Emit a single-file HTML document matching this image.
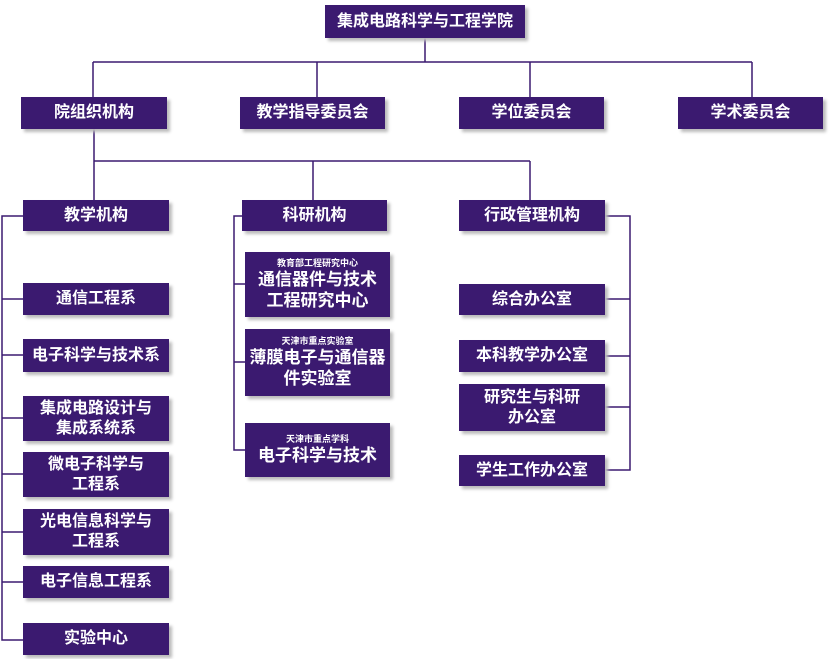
<!DOCTYPE html>
<html><head><meta charset="utf-8"><style>
html,body{margin:0;padding:0;background:#fff;}
#c{position:relative;width:831px;height:659px;overflow:hidden;font-family:"Liberation Sans","Noto Sans CJK SC",sans-serif;}
.b{position:absolute;background:#3b1a70;color:#fff;font-weight:bold;font-size:16px;display:flex;flex-direction:column;align-items:center;justify-content:center;text-align:center;line-height:20px;box-shadow:3px 3px 3px #bbb;}
.m{font-size:17px;line-height:21px;}
.s{font-size:9px;line-height:11px;}
svg{position:absolute;left:0;top:0;}
</style></head><body><div id="c">
<svg width="831" height="659"><g stroke="#3b1a70" stroke-width="1.5" fill="none">
<path d="M425 38V62M93 62H752M93 62V97M317 62V97M530 62V97M752 62V97"/>
<path d="M94 129V200M94 161H530M313 161V200M530 161V200"/>
<path d="M23 216H2V640H23M2 299H23M2 355H23M2 418H23M2 474H23M2 532H23M2 582H23"/>
<path d="M245 216H234V450H245M234 284H245M234 362H245"/>
<path d="M605 216H630V470H605M630 299H605M630 356H605M630 407H605"/>
</g></svg>
<div class="b" style="left:325px;top:5px;width:200px;height:33px">集成电路科学与工程学院</div>
<div class="b" style="left:21px;top:97px;width:146px;height:32px">院组织机构</div>
<div class="b" style="left:240px;top:97px;width:145px;height:32px">教学指导委员会</div>
<div class="b" style="left:459px;top:97px;width:145px;height:32px">学位委员会</div>
<div class="b" style="left:678px;top:97px;width:145px;height:32px">学术委员会</div>
<div class="b" style="left:23px;top:200px;width:146px;height:31px">教学机构</div>
<div class="b" style="left:242px;top:200px;width:145px;height:31px">科研机构</div>
<div class="b" style="left:459px;top:200px;width:146px;height:31px">行政管理机构</div>
<div class="b" style="left:23px;top:283px;width:146px;height:32px">通信工程系</div>
<div class="b" style="left:23px;top:339px;width:146px;height:33px">电子科学与技术系</div>
<div class="b" style="left:23px;top:396px;width:146px;height:45px">集成电路设计与<br>集成系统系</div>
<div class="b" style="left:23px;top:452px;width:146px;height:45px">微电子科学与<br>工程系</div>
<div class="b" style="left:23px;top:509px;width:146px;height:46px">光电信息科学与<br>工程系</div>
<div class="b" style="left:23px;top:566px;width:146px;height:32px">电子信息工程系</div>
<div class="b" style="left:23px;top:623px;width:146px;height:32px">实验中心</div>
<div class="b m" style="left:245px;top:252px;width:145px;height:65px"><span class="s">教育部工程研究中心</span>通信器件与技术<br>工程研究中心</div>
<div class="b m" style="left:245px;top:329px;width:145px;height:67px"><span class="s">天津市重点实验室</span>薄膜电子与通信器<br>件实验室</div>
<div class="b m" style="left:245px;top:423px;width:145px;height:54px"><span class="s">天津市重点学科</span>电子科学与技术</div>
<div class="b" style="left:459px;top:284px;width:146px;height:31px">综合办公室</div>
<div class="b" style="left:459px;top:340px;width:146px;height:32px">本科教学办公室</div>
<div class="b" style="left:459px;top:384px;width:146px;height:47px">研究生与科研<br>办公室</div>
<div class="b" style="left:459px;top:455px;width:146px;height:31px">学生工作办公室</div>
</div></body></html>
